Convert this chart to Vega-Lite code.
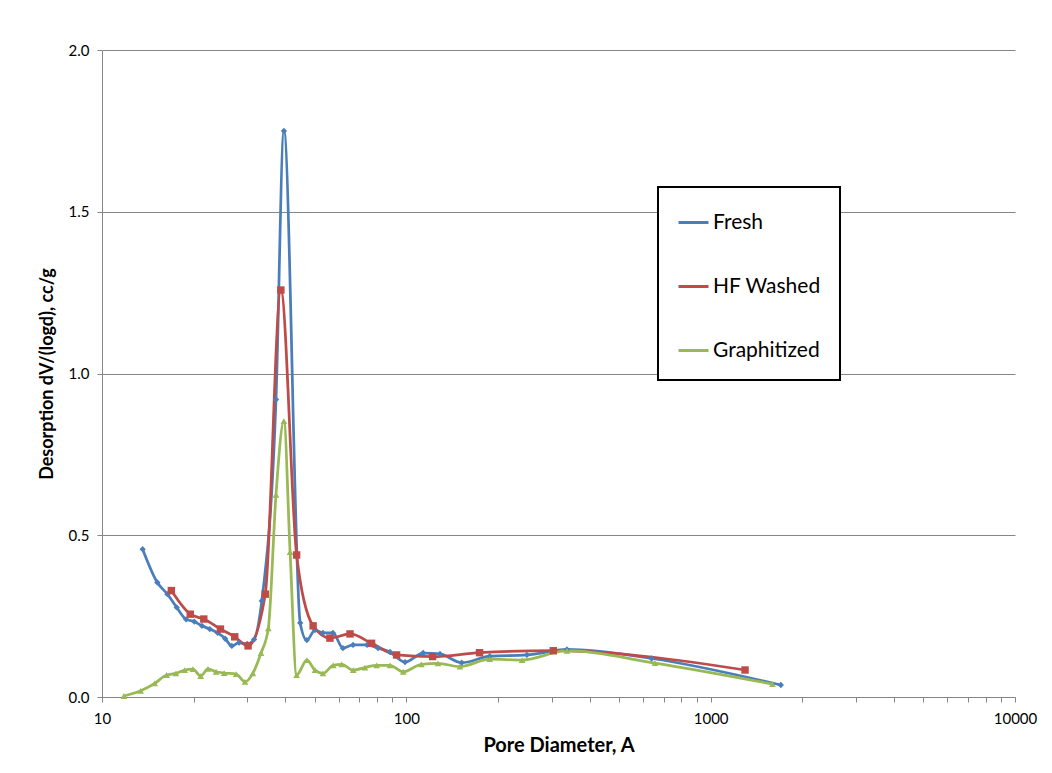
{
  "$schema": "https://vega.github.io/schema/vega-lite/v6.json",
  "width": 913,
  "height": 647,
  "autosize": {"type": "none"},
  "padding": {"left": 102, "top": 50, "right": 37, "bottom": 76},
  "background": "white",
  "config": {
    "font": "Lato",
    "view": {"stroke": null},
    "axis": {
      "domainColor": "#868686",
      "tickColor": "#868686",
      "gridColor": "#868686",
      "labelColor": "#000000",
      "labelFontSize": 15,
      "titleFontSize": 18,
      "titleFontWeight": "bold",
      "titleColor": "#000000",
      "tickSize": 5
    }
  },
  "data": {
    "values": [
      {"series": "Fresh", "d": 13.6, "v": 0.457},
      {"series": "Fresh", "d": 15.2, "v": 0.354},
      {"series": "Fresh", "d": 16.4, "v": 0.318},
      {"series": "Fresh", "d": 17.6, "v": 0.277},
      {"series": "Fresh", "d": 18.9, "v": 0.24},
      {"series": "Fresh", "d": 20.1, "v": 0.233},
      {"series": "Fresh", "d": 21.3, "v": 0.22},
      {"series": "Fresh", "d": 22.6, "v": 0.21},
      {"series": "Fresh", "d": 24.0, "v": 0.198},
      {"series": "Fresh", "d": 25.4, "v": 0.18},
      {"series": "Fresh", "d": 26.7, "v": 0.158},
      {"series": "Fresh", "d": 28.2, "v": 0.168},
      {"series": "Fresh", "d": 30.0, "v": 0.164},
      {"series": "Fresh", "d": 31.6, "v": 0.178},
      {"series": "Fresh", "d": 33.5, "v": 0.297},
      {"series": "Fresh", "d": 37.3, "v": 0.92},
      {"series": "Fresh", "d": 39.6, "v": 1.75},
      {"series": "Fresh", "d": 44.8, "v": 0.229},
      {"series": "Fresh", "d": 47.1, "v": 0.176},
      {"series": "Fresh", "d": 50.1, "v": 0.207},
      {"series": "Fresh", "d": 53.2, "v": 0.198},
      {"series": "Fresh", "d": 57.4, "v": 0.198},
      {"series": "Fresh", "d": 61.9, "v": 0.151},
      {"series": "Fresh", "d": 66.8, "v": 0.161},
      {"series": "Fresh", "d": 74.3, "v": 0.161},
      {"series": "Fresh", "d": 80.8, "v": 0.151},
      {"series": "Fresh", "d": 88.4, "v": 0.139},
      {"series": "Fresh", "d": 99.0, "v": 0.108},
      {"series": "Fresh", "d": 113.5, "v": 0.136},
      {"series": "Fresh", "d": 129, "v": 0.133},
      {"series": "Fresh", "d": 152, "v": 0.106},
      {"series": "Fresh", "d": 188, "v": 0.126},
      {"series": "Fresh", "d": 249, "v": 0.13},
      {"series": "Fresh", "d": 337, "v": 0.147},
      {"series": "Fresh", "d": 640, "v": 0.119},
      {"series": "Fresh", "d": 1700, "v": 0.037},
      {"series": "HF Washed", "d": 16.9, "v": 0.329},
      {"series": "HF Washed", "d": 19.5, "v": 0.256},
      {"series": "HF Washed", "d": 21.6, "v": 0.241},
      {"series": "HF Washed", "d": 24.5, "v": 0.21},
      {"series": "HF Washed", "d": 27.3, "v": 0.186},
      {"series": "HF Washed", "d": 30.2, "v": 0.158},
      {"series": "HF Washed", "d": 34.4, "v": 0.318},
      {"series": "HF Washed", "d": 38.7, "v": 1.258},
      {"series": "HF Washed", "d": 43.6, "v": 0.439},
      {"series": "HF Washed", "d": 49.4, "v": 0.22},
      {"series": "HF Washed", "d": 56.1, "v": 0.182},
      {"series": "HF Washed", "d": 65.3, "v": 0.195},
      {"series": "HF Washed", "d": 76.9, "v": 0.166},
      {"series": "HF Washed", "d": 92.9, "v": 0.13},
      {"series": "HF Washed", "d": 122, "v": 0.125},
      {"series": "HF Washed", "d": 174, "v": 0.137},
      {"series": "HF Washed", "d": 304, "v": 0.143},
      {"series": "HF Washed", "d": 1297, "v": 0.0835},
      {"series": "Graphitized", "d": 11.8, "v": 0.003},
      {"series": "Graphitized", "d": 13.4, "v": 0.019},
      {"series": "Graphitized", "d": 14.9, "v": 0.042},
      {"series": "Graphitized", "d": 16.3, "v": 0.068},
      {"series": "Graphitized", "d": 17.5, "v": 0.073},
      {"series": "Graphitized", "d": 18.7, "v": 0.083},
      {"series": "Graphitized", "d": 19.9, "v": 0.086},
      {"series": "Graphitized", "d": 21.1, "v": 0.065},
      {"series": "Graphitized", "d": 22.3, "v": 0.087},
      {"series": "Graphitized", "d": 23.7, "v": 0.078},
      {"series": "Graphitized", "d": 25.2, "v": 0.074},
      {"series": "Graphitized", "d": 27.6, "v": 0.071},
      {"series": "Graphitized", "d": 29.5, "v": 0.047},
      {"series": "Graphitized", "d": 31.3, "v": 0.073},
      {"series": "Graphitized", "d": 33.3, "v": 0.136},
      {"series": "Graphitized", "d": 35.2, "v": 0.212},
      {"series": "Graphitized", "d": 37.3, "v": 0.625},
      {"series": "Graphitized", "d": 39.6, "v": 0.853},
      {"series": "Graphitized", "d": 41.5, "v": 0.448},
      {"series": "Graphitized", "d": 43.6, "v": 0.068},
      {"series": "Graphitized", "d": 47.1, "v": 0.114},
      {"series": "Graphitized", "d": 50.1, "v": 0.083},
      {"series": "Graphitized", "d": 53.2, "v": 0.073},
      {"series": "Graphitized", "d": 57.5, "v": 0.098},
      {"series": "Graphitized", "d": 61.3, "v": 0.101},
      {"series": "Graphitized", "d": 66.9, "v": 0.083},
      {"series": "Graphitized", "d": 73.1, "v": 0.091},
      {"series": "Graphitized", "d": 79.9, "v": 0.098},
      {"series": "Graphitized", "d": 88.4, "v": 0.098},
      {"series": "Graphitized", "d": 97.7, "v": 0.078},
      {"series": "Graphitized", "d": 112, "v": 0.101},
      {"series": "Graphitized", "d": 127, "v": 0.104},
      {"series": "Graphitized", "d": 150, "v": 0.094},
      {"series": "Graphitized", "d": 188, "v": 0.117},
      {"series": "Graphitized", "d": 240, "v": 0.114},
      {"series": "Graphitized", "d": 337, "v": 0.143},
      {"series": "Graphitized", "d": 656, "v": 0.105},
      {"series": "Graphitized", "d": 1596, "v": 0.04}
    ]
  },
  "encoding": {
    "x": {
      "field": "d",
      "type": "quantitative",
      "scale": {"type": "log", "domain": [10, 10000]},
      "axis": {
        "title": "Pore Diameter, A",
        "titleFontSize": 20,
        "grid": false,
        "values": [10, 20, 30, 40, 50, 60, 70, 80, 90, 100, 200, 300, 400, 500, 600, 700, 800, 900, 1000, 2000, 3000, 4000, 5000, 6000, 7000, 8000, 9000, 10000],
        "format": "d",
        "labelExpr": "indexof([10, 100, 1000, 10000], datum.value) >= 0 ? datum.label : ''",
        "labelPadding": 9,
        "titlePadding": 9,
        "labelFlush": false,
        "labelOverlap": false
      }
    },
    "y": {
      "field": "v",
      "type": "quantitative",
      "scale": {"domain": [0, 2]},
      "axis": {
        "title": "Desorption dV/(logd), cc/g",
        "values": [0, 0.5, 1, 1.5, 2],
        "format": ".1f",
        "grid": true,
        "labelPadding": 8,
        "titlePadding": 12
      }
    }
  },
  "layer": [
    {
      "mark": {"type": "line", "interpolate": "monotone", "strokeWidth": 2.75},
      "encoding": {
        "color": {
          "field": "series",
          "type": "nominal",
          "sort": ["Fresh", "HF Washed", "Graphitized"],
          "scale": {
            "domain": ["Fresh", "HF Washed", "Graphitized"],
            "range": ["#4A7EBB", "#BE4B48", "#98B954"]
          },
          "legend": {
            "title": null,
            "orient": "none",
            "legendX": 556,
            "legendY": 137,
            "strokeColor": "#000000",
            "fillColor": "#ffffff",
            "padding": 19,
            "rowPadding": 37,
            "labelFontSize": 21,
            "labelColor": "#000000",
            "labelOffset": 3,
            "symbolType": "stroke",
            "symbolSize": 900,
            "symbolStrokeWidth": 3,
            "encode": {"legend": {"update": {"strokeWidth": {"value": 2}}}}
          }
        }
      }
    },
    {
      "transform": [{"filter": "datum.series === 'Fresh'"}],
      "mark": {"type": "point", "shape": "diamond", "filled": true, "opacity": 1, "color": "#4A7EBB", "size": 40}
    },
    {
      "transform": [{"filter": "datum.series === 'HF Washed'"}],
      "mark": {"type": "point", "shape": "square", "filled": true, "opacity": 1, "color": "#BE4B48", "size": 55}
    },
    {
      "transform": [{"filter": "datum.series === 'Graphitized'"}],
      "mark": {"type": "point", "shape": "triangle-up", "filled": true, "opacity": 1, "color": "#98B954", "size": 45}
    }
  ]
}
